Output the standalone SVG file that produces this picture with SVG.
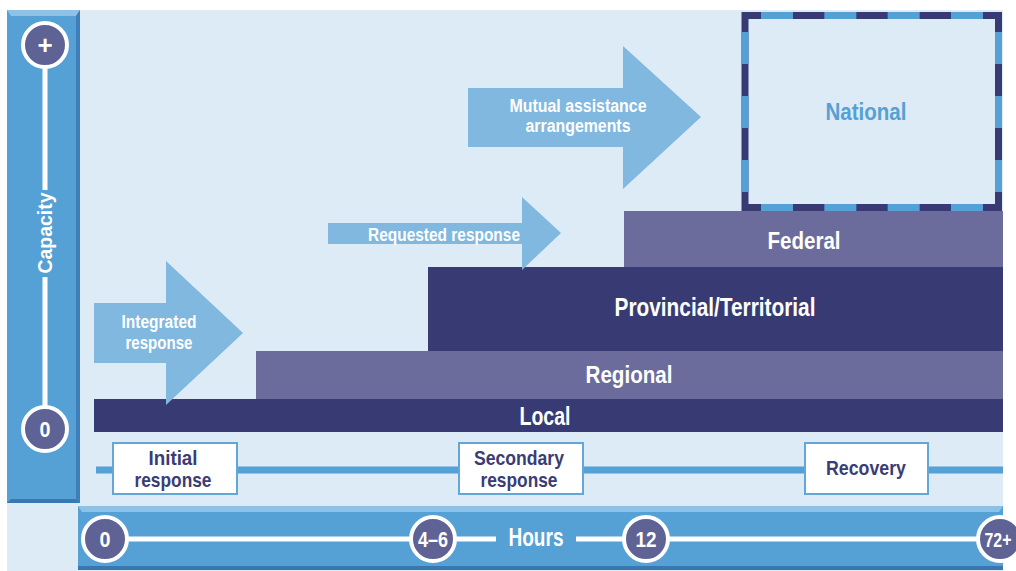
<svg xmlns="http://www.w3.org/2000/svg" width="1016" height="571" viewBox="0 0 1016 571">
<style>
text{font-family:"Liberation Sans Narrow","Liberation Sans",Arial,sans-serif;font-weight:bold;text-anchor:middle}
.w{fill:#ffffff}
.n{fill:#3A3D74}
.navy{fill:#383B73}
.purp{fill:#6B6C9C}
.arrow{fill:#80B8E0}
.circ{fill:#5F6294;stroke:#ffffff;stroke-width:4}
.wl{stroke:#ffffff;stroke-width:5;fill:none}
.box{fill:#ffffff;stroke:#63A7D8;stroke-width:2}
</style>
<rect x="0" y="0" width="1016" height="571" fill="#ffffff"/>
<rect x="7" y="10" width="996" height="561" fill="#DDEBF7"/>

<g id="capacity-axis">
<rect x="7" y="10" width="73" height="493" fill="#55A0D4"/>
<polygon points="7,10 80,10 76,16 11,16" fill="#8DC1E5"/>
<polygon points="80,10 80,503 76,499 76,16" fill="#3F7FB9"/>
<polygon points="7,503 80,503 76,499 11,499" fill="#3A77B0"/>
<line class="wl" x1="45" y1="66" x2="45" y2="190" stroke-width="6"/>
<line class="wl" x1="45" y1="277" x2="45" y2="406" stroke-width="6"/>
<circle class="circ" cx="45" cy="45" r="22"/>
<text class="w" x="45" y="54" font-size="26">+</text>
<circle class="circ" cx="45" cy="429" r="22"/>
<text class="w" x="45" y="437" font-size="22" textLength="11" lengthAdjust="spacingAndGlyphs">0</text>
<text class="w" transform="translate(52,233) rotate(-90)" x="0" y="0" font-size="21" textLength="81" lengthAdjust="spacingAndGlyphs">Capacity</text>
</g>

<g id="hours-axis">
<rect x="78" y="506" width="925" height="64" fill="#55A0D4"/>
<polygon points="78,506 1003,506 999,512 82,512" fill="#8DC1E5"/>
<rect x="78" y="566" width="925" height="4" fill="#3A77B0"/>
<line class="wl" x1="105" y1="539" x2="496" y2="539"/>
<line class="wl" x1="576" y1="539" x2="1000" y2="539"/>
<text class="w" x="536" y="546" font-size="25" textLength="55" lengthAdjust="spacingAndGlyphs">Hours</text>
<circle class="circ" cx="105" cy="539" r="22"/>
<text class="w" x="105" y="547" font-size="22" textLength="11" lengthAdjust="spacingAndGlyphs">0</text>
<circle class="circ" cx="433" cy="539" r="22"/>
<text class="w" x="433" y="547" font-size="22" textLength="30" lengthAdjust="spacingAndGlyphs">4–6</text>
<circle class="circ" cx="646" cy="539" r="22"/>
<text class="w" x="646" y="547" font-size="22" textLength="21" lengthAdjust="spacingAndGlyphs">12</text>
<circle class="circ" cx="1000" cy="539" r="22"/>
<text class="w" x="998" y="547" font-size="21" textLength="27" lengthAdjust="spacingAndGlyphs">72+</text>
</g>

<g id="connectors">
<line x1="96" y1="470" x2="1003" y2="470" stroke="#55A0D4" stroke-width="7"/>
</g>

<g id="initial-response">
<rect class="box" x="113" y="443" width="124" height="51"/>
<text class="n" x="173" y="465" font-size="21" textLength="49" lengthAdjust="spacingAndGlyphs">Initial</text>
<text class="n" x="173" y="487" font-size="21" textLength="77" lengthAdjust="spacingAndGlyphs">response</text>
</g>
<g id="secondary-response">
<rect class="box" x="459" y="443" width="124" height="51"/>
<text class="n" x="519" y="465" font-size="21" textLength="90" lengthAdjust="spacingAndGlyphs">Secondary</text>
<text class="n" x="519" y="487" font-size="21" textLength="77" lengthAdjust="spacingAndGlyphs">response</text>
</g>
<g id="recovery">
<rect class="box" x="805" y="443" width="123" height="51"/>
<text class="n" x="866" y="475" font-size="21" textLength="80" lengthAdjust="spacingAndGlyphs">Recovery</text>
</g>

<g id="local">
<rect class="navy" x="94" y="399" width="909" height="33"/>
<text class="w" x="545" y="425" font-size="25" textLength="51" lengthAdjust="spacingAndGlyphs">Local</text>
</g>
<g id="regional">
<rect class="purp" x="256" y="351" width="747" height="48"/>
<text class="w" x="629" y="383" font-size="24" textLength="87" lengthAdjust="spacingAndGlyphs">Regional</text>
</g>
<g id="provincial-territorial">
<rect class="navy" x="428" y="267" width="575" height="84"/>
<text class="w" x="715" y="316" font-size="25" textLength="201" lengthAdjust="spacingAndGlyphs">Provincial/Territorial</text>
</g>
<g id="federal">
<rect class="purp" x="624" y="211" width="379" height="56"/>
<text class="w" x="804" y="249" font-size="24" textLength="73" lengthAdjust="spacingAndGlyphs">Federal</text>
</g>
<g id="national">
<rect x="745" y="15.5" width="253.5" height="192" fill="#DDEBF7" stroke="#383B73" stroke-width="7"/>
<line x1="761" y1="15.5" x2="983" y2="15.5" stroke="#55A0D4" stroke-width="7" stroke-dasharray="32 31.33"/>
<line x1="761" y1="207.5" x2="983" y2="207.5" stroke="#55A0D4" stroke-width="7" stroke-dasharray="32 31.33"/>
<line x1="745" y1="32" x2="745" y2="192" stroke="#55A0D4" stroke-width="7" stroke-dasharray="32 32"/>
<line x1="998.5" y1="32" x2="998.5" y2="192" stroke="#55A0D4" stroke-width="7" stroke-dasharray="32 32"/>
<text x="866" y="120" font-size="24" fill="#55A0D4" textLength="81" lengthAdjust="spacingAndGlyphs">National</text>
</g>

<g id="integrated-response">
<polygon class="arrow" points="94,303 166,303 166,261 243,333 166,405 166,363 94,363"/>
<text class="w" x="159" y="328" font-size="18" textLength="75" lengthAdjust="spacingAndGlyphs">Integrated</text>
<text class="w" x="159" y="349" font-size="18" textLength="67" lengthAdjust="spacingAndGlyphs">response</text>
</g>
<g id="requested-response">
<polygon class="arrow" points="328,223 522,223 522,197 561,233 522,270 522,244 328,244"/>
<text class="w" x="444" y="241" font-size="18" textLength="152" lengthAdjust="spacingAndGlyphs">Requested response</text>
</g>
<g id="mutual-assistance">
<polygon class="arrow" points="468,88 623,88 623,46 701,117 623,189 623,147 468,147"/>
<text class="w" x="578" y="112" font-size="18" textLength="137" lengthAdjust="spacingAndGlyphs">Mutual assistance</text>
<text class="w" x="578" y="132" font-size="18" textLength="105" lengthAdjust="spacingAndGlyphs">arrangements</text>
</g>
</svg>
